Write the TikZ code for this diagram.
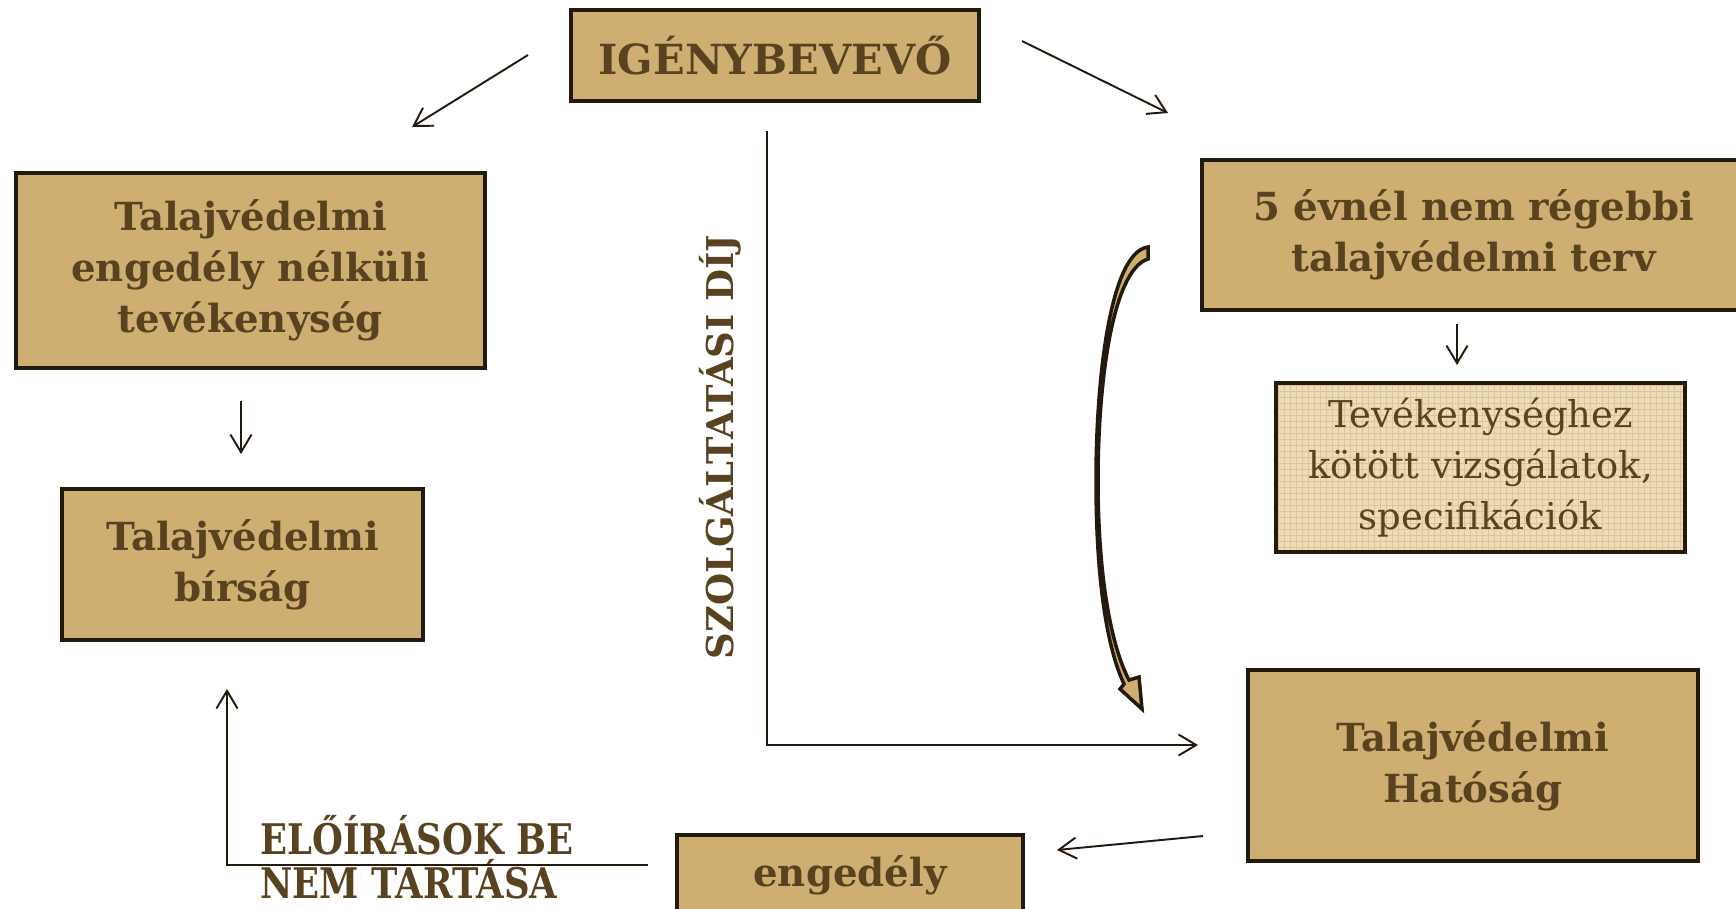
\documentclass[tikz,border=0pt]{standalone}
\usepackage{fontspec}
\setmainfont{DejaVu Serif}
\newfontfamily\condserif[FakeStretch=0.84]{DejaVu Serif}
\usetikzlibrary{arrows.meta}
\definecolor{boxfill}{RGB}{207,174,114}
\definecolor{boxline}{RGB}{35,26,14}
\definecolor{txtbrown}{RGB}{88,66,32}
\definecolor{gridfill}{RGB}{236,220,186}
\definecolor{gridline}{RGB}{222,196,146}
\tikzset{
  box/.style={draw=boxline, line width=1pt, fill=boxfill, text=txtbrown, align=center,
    inner sep=0pt, font=\bfseries\fontsize{11}{14.5}\selectfont},
  gridbox/.style={box, fill=gridfill, font=\fontsize{10.5}{14.5}\selectfont,
    path picture={\draw[gridline, line width=0.3pt, step=0.6mm]
      (path picture bounding box.south west) grid (path picture bounding box.north east);}},
  arr/.style={draw=boxline, line width=0.55pt, -{Straight Barb[length=5pt,width=6pt]}},
  lbl/.style={text=txtbrown, font=\bfseries\fontsize{10.5}{12.5}\selectfont},
  bentarrow/.style={fill=boxfill, draw=boxline, line width=1pt, line join=miter}
}

\begin{document}
\begin{tikzpicture}[x=0.01cm, y=-0.01cm]
    \useasboundingbox (0,0) rectangle (1736,908);

    \node[box, minimum width=4.08cm, minimum height=0.91cm, font=\bfseries\fontsize{11.8}{15}\selectfont] (igeny) at (775,55.5) {IGÉNYBEVEVŐ};
    \node[box, minimum width=4.69cm, minimum height=1.95cm] (nelkuli) at (250.5,270.5) {Talajvédelmi\\engedély nélküli\\tevékenység};
    \node[box, minimum width=3.61cm, minimum height=1.51cm] (birsag) at (242.5,564.5) {Talajvédelmi\\bírság};
    \node[box, minimum width=5.43cm, minimum height=1.5cm] (terv) at (1473.5,235) {5 évnél nem régebbi\\talajvédelmi terv};
    \node[gridbox, minimum width=4.09cm, minimum height=1.69cm] (vizsg) at (1480.5,467.5) {Tevékenységhez\\kötött vizsgálatok,\\specifikációk};
    \node[box, minimum width=4.5cm, minimum height=1.91cm] (hatosag) at (1473,765.5) {Talajvédelmi\\Hatóság};
    \node[box, minimum width=3.46cm, minimum height=0.8cm] (engedely) at (850,875) {engedély};

    \node[lbl, rotate=90] (dij) at (720,447) {SZOLGÁLTATÁSI DÍJ};
    \node[lbl, font=\condserif\bfseries\fontsize{12}{12.5}\selectfont, align=left, anchor=west] (eloir) at (248,857) {ELŐÍRÁSOK BE\\NEM TARTÁSA};

    \coordinate (a1) at (528,55);
    \coordinate (b1) at (412,127);
    \coordinate (a2) at (1022,41);
    \coordinate (b2) at (1168,113);
    \coordinate (a3) at (767,131);
    \coordinate (b3) at (1198,745);
    \coordinate (a4) at (241,401);
    \coordinate (b4) at (241,454);
    \coordinate (a5) at (1457,324);
    \coordinate (b5) at (1457,365);
    \coordinate (a6) at (1203,836);
    \coordinate (b6) at (1057,850);
    \coordinate (a7) at (648,865);
    \coordinate (b7) at (227,689);

    \draw[arr] (a1) -- (b1);
    \draw[arr] (a2) -- (b2);
    \draw[arr] (a3) |- (b3);
    \draw[arr] (a4) -- (b4);
    \draw[arr] (a5) -- (b5);
    \draw[arr] (a6) -- (b6);
    \draw[arr] (a7) -| (b7);

    \draw[bentarrow] (1148,247) .. controls (1110,252) and (1096,380) .. (1096,480)
        .. controls (1096,585) and (1108,650) .. (1124,684) -- (1120,689) -- (1142,709)
        -- (1139,677) -- (1129,680)
        .. controls (1112,648) and (1098,580) .. (1098,480)
        .. controls (1098,385) and (1112,270) .. (1148,259) -- cycle;
\end{tikzpicture}
\end{document}
